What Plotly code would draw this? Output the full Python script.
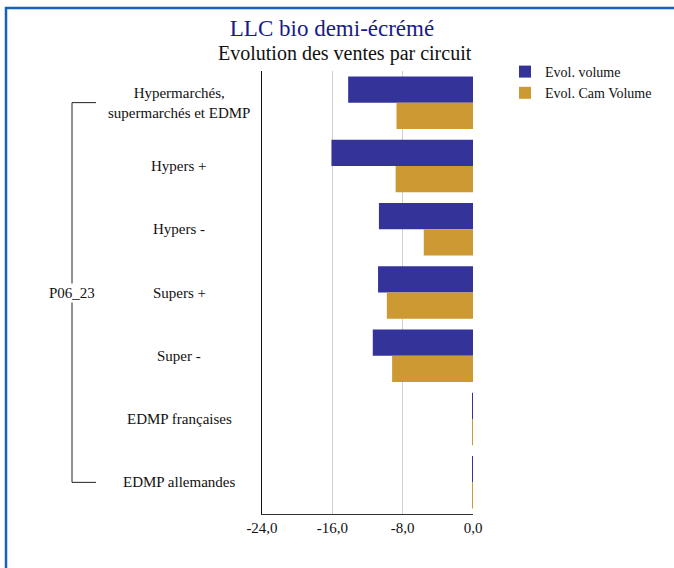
import plotly.graph_objects as go

categories = ["Hypermarchés,<br>supermarchés et EDMP", "Hypers +", "Hypers -", "Supers +",
              "Super -", "EDMP françaises", "EDMP allemandes"]
evol_volume = [-14.2, -16.1, -10.7, -10.8, -11.4, -0.1, -0.1]
evol_cam_volume = [-8.7, -8.8, -5.6, -9.8, -9.2, -0.05, -0.05]
group_label = "P06_23"
x_ticks = [-24, -16, -8, 0]
x_tick_text = [f"{v:.1f}".replace(".", ",") for v in x_ticks]

FONT = "Liberation Serif"
BLUE = "#333399"
ORANGE = "#CC9933"

fig = go.Figure()
fig.add_trace(go.Bar(y=categories, x=evol_volume, orientation="h", name="Evol. volume",
                     marker=dict(color=BLUE, line=dict(width=0))))
fig.add_trace(go.Bar(y=categories, x=evol_cam_volume, orientation="h", name="Evol. Cam Volume",
                     marker=dict(color=ORANGE, line=dict(width=0))))

W, H = 674, 568
L, R, T, B = 262, 201, 71, 54
pw, ph = W - L - R, H - T - B

def px_x(p):
    return (p - L) / pw

def px_y(p):
    return (H - B - p) / ph

annotations = []
for c in categories:
    annotations.append(dict(x=px_x(179), y=c, xref="paper", yref="y", text=c, showarrow=False,
                            xanchor="center", yanchor="middle", align="center",
                            font=dict(family=FONT, size=15, color="#111")))
annotations.append(dict(x=px_x(72), y=3, xref="paper", yref="y", text=group_label, showarrow=False,
                        xanchor="center", yanchor="middle", bgcolor="white",
                        font=dict(family=FONT, size=15, color="#111")))
annotations.append(dict(x=px_x(345), y=px_y(54), xref="paper", yref="paper",
                        text="Evolution des ventes par circuit", showarrow=False,
                        xanchor="center", yanchor="middle",
                        font=dict(family=FONT, size=20, color="#111")))

shapes = [
    dict(type="line", xref="paper", yref="y", x0=px_x(72), x1=px_x(72), y0=0, y1=6,
         line=dict(color="#222", width=1)),
    dict(type="line", xref="paper", yref="y", x0=px_x(72), x1=px_x(96), y0=0, y1=0,
         line=dict(color="#222", width=1)),
    dict(type="line", xref="paper", yref="y", x0=px_x(72), x1=px_x(96), y0=6, y1=6,
         line=dict(color="#222", width=1)),
    dict(type="path", xref="paper", yref="paper",
         path=f"M {px_x(6)},{px_y(575)} L {px_x(6)},{px_y(8)} L {px_x(680)},{px_y(8)}",
         line=dict(color="#1560b8", width=2.5)),
]

fig.update_layout(
    width=W, height=H,
    margin=dict(l=L, r=R, t=T, b=B, autoexpand=False),
    paper_bgcolor="white", plot_bgcolor="white",
    barmode="group", bargap=0.17, bargroupgap=0.0,
    title=dict(text="LLC bio demi-écrémé", x=332 / W, xanchor="center", y=1 - 28 / H, yanchor="middle",
               font=dict(family=FONT, size=23, color="#1a1a8c")),
    xaxis=dict(range=[-24, 0], tickvals=x_ticks, ticktext=x_tick_text, showgrid=True,
               gridcolor="#d0d0d0", gridwidth=1, zeroline=False, showline=True,
               linecolor="#333", linewidth=1, ticks="", ticklen=0,
               tickfont=dict(family=FONT, size=15, color="#111")),
    yaxis=dict(autorange="reversed", showticklabels=False, showgrid=False, zeroline=False,
               showline=True, linecolor="#111", linewidth=1, ticks=""),
    legend=dict(x=px_x(505), y=px_y(56), xanchor="left", yanchor="top",
                font=dict(family=FONT, size=14, color="#111"), traceorder="normal",
                bgcolor="rgba(0,0,0,0)", itemwidth=30, tracegroupgap=0),
    annotations=annotations,
    shapes=shapes,
)

fig.write_html("out.html", config={"displayModeBar": False},
               post_script="document.body.style.margin='0';document.body.style.padding='0';")
